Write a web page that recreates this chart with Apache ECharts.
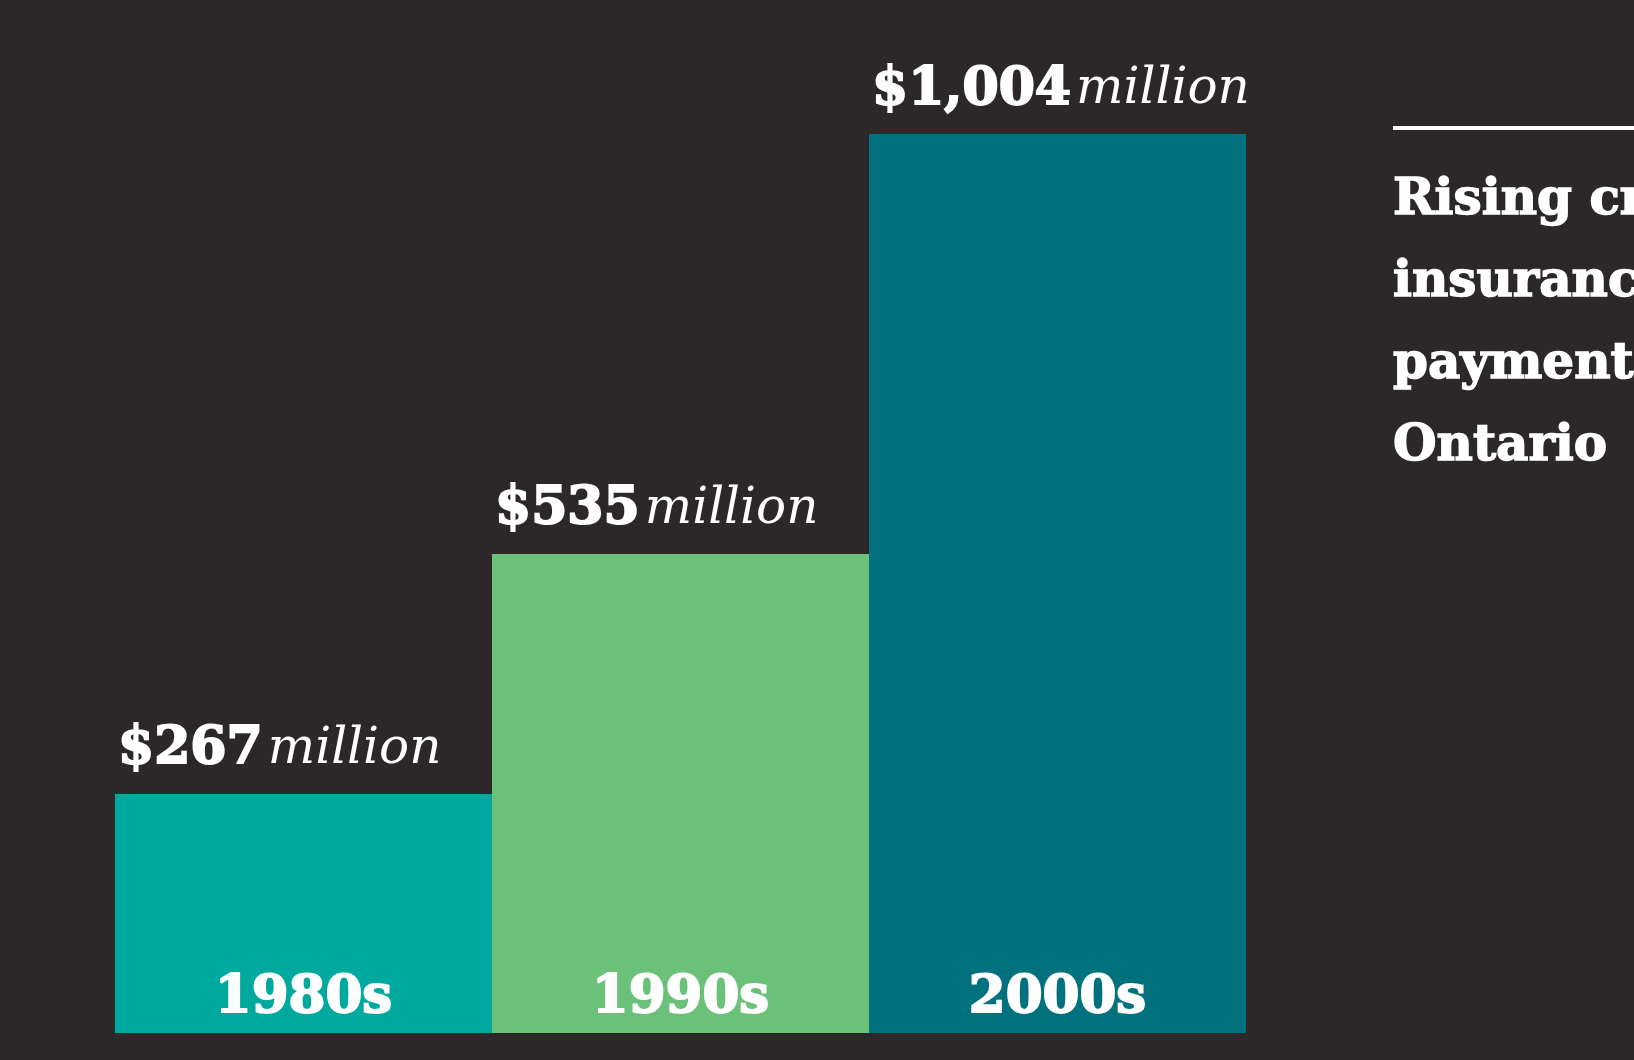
<!DOCTYPE html>
<html>
<head>
<meta charset="utf-8">
<script src="https://cdn.jsdelivr.net/npm/echarts@6/dist/echarts.min.js"></script>
<style>
html, body { margin: 0; padding: 0; background: #2c282a; }
#main { width: 1634px; height: 1060px; }
</style>
</head>
<body>
<div id="main"></div>
<script>
var decades = ['1980s', '1990s', '2000s'];
var payments = [267, 535, 1004]; // $ million
var barColors = ['#00a99e', '#6cc17a', '#00717d'];
var titleLines = ['Rising crop', 'insurance', 'payments', 'Ontario'];

var serif = '"DejaVu Serif", serif';
var myChart = echarts.init(document.getElementById('main'));

var option = {
	backgroundColor: '#2c282a',
	animation: false,
	title: {
		text: titleLines.join('\n'),
		left: 1393,
		top: 160,
		padding: 0,
		textStyle: {
			color: '#ffffff',
			fontFamily: serif,
			fontWeight: 'bold',
			fontSize: 50,
			lineHeight: 82,
			textBorderColor: '#ffffff',
			textBorderWidth: 1.5
		}
	},
	graphic: [{
		type: 'rect',
		shape: { x: 1393, y: 126, width: 260, height: 4 },
		style: { fill: '#ffffff' }
	}],
	grid: {
		left: 115,
		right: 388,
		top: 134,
		bottom: 27
	},
	xAxis: {
		type: 'category',
		data: decades,
		axisLine: { show: false },
		axisTick: { show: false },
		axisLabel: {
			inside: true,
			margin: 8,
			color: '#ffffff',
			fontFamily: serif,
			fontWeight: 'bold',
			fontSize: 53,
			textBorderColor: '#ffffff',
			textBorderWidth: 2
		},
		z: 10
	},
	yAxis: {
		type: 'value',
		min: 0,
		max: 'dataMax',
		show: false,
		splitLine: { show: false }
	},
	series: [{
		type: 'bar',
		barCategoryGap: 0,
		data: payments.map(function(v, i) {
			return { value: v, itemStyle: { color: barColors[i] } };
		}),
		label: {
			show: true,
			position: [3, -14],
			align: 'left',
			verticalAlign: 'bottom',
			formatter: function(p) {
				return '{v|$' + p.value.toLocaleString('en-US') + '}{u|million}';
			},
			rich: {
				v: {
					color: '#ffffff',
					fontFamily: serif,
					fontWeight: 'bold',
					fontSize: 52,
					lineHeight: 60,
					textBorderColor: '#ffffff',
					textBorderWidth: 2
				},
				u: {
					color: '#ffffff',
					fontFamily: serif,
					fontStyle: 'italic',
					fontSize: 50,
					lineHeight: 60,
					padding: [0, 0, 0, 5]
				}
			}
		}
	}]
};
myChart.setOption(option);
</script>
</body>
</html>
